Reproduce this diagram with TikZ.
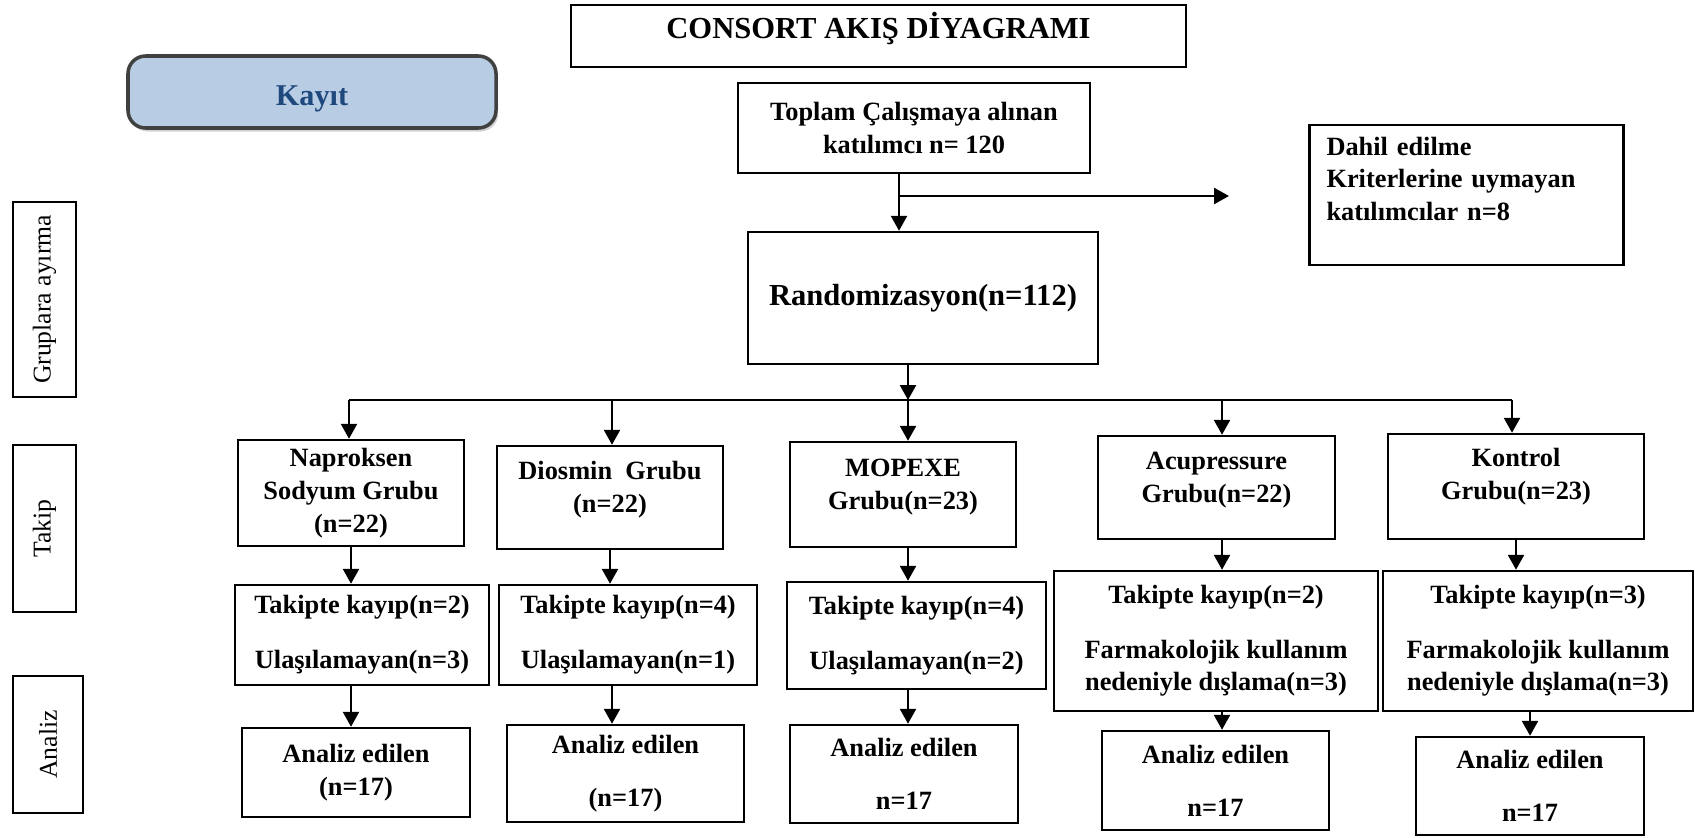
\documentclass[tikz,border=0pt]{standalone}
\usepackage{fontspec}
\setmainfont{Liberation Serif}
\usetikzlibrary{arrows.meta, positioning, shadows}

\definecolor{kayitfill}{RGB}{184,204,228}
\definecolor{kayittext}{RGB}{31,73,125}

\begin{document}
\begin{tikzpicture}[line width=0.7pt, >={Triangle[length=1.5mm, width=1.6mm]}]

	% Define styles
	\tikzstyle{box} = [rectangle, draw, align=center, inner sep=2pt, font=\fontsize{7.5}{9.3}\selectfont\bfseries]
	\tikzstyle{bigbox} = [box, font=\fontsize{8.7}{10.5}\selectfont\bfseries]
	\tikzstyle{side} = [rectangle, draw, rotate=90, font=\fontsize{7.3}{9}\selectfont]
	\tikzstyle{phase} = [rectangle, rounded corners=5pt, draw=black!75, line width=1pt, fill=kayitfill, text=kayittext, drop shadow={shadow xshift=0.6pt, shadow yshift=-1pt, opacity=0.35}, font=\fontsize{8.6}{10}\selectfont\bfseries]

	\useasboundingbox (0,0) rectangle (16.95,-8.37);

	% Header
	\node[bigbox, minimum width=6.15cm, minimum height=0.62cm] (title) at (8.785,-0.36) {CONSORT AKIŞ DİYAGRAMI\\[-0.5em]\mbox{}};
	\node[phase, minimum width=3.68cm, minimum height=0.72cm] (kayit) at (3.12,-0.92) {\raisebox{-2pt}[\height][\depth]{Kayıt}};

	% Enrolment
	\node[box, minimum width=3.52cm, minimum height=0.9cm] (toplam) at (9.14,-1.28) {Toplam Çalışmaya alınan\\katılımcı n= 120};
	\node[box, align=left, text width=2.8cm, inner xsep=0.17cm, minimum height=1.4cm] (dahil) at (14.665,-1.95) {Dahil edilme\\Kriterlerine uymayan\\katılımcılar n=8\\\mbox{}};
	\node[bigbox, minimum width=3.5cm, minimum height=1.32cm] (random) at (9.23,-2.98) {Randomizasyon(n=112)};

	% Side labels
	\node[side, minimum width=1.95cm, minimum height=0.63cm] (grupL) at (0.445,-2.995) {Gruplara ayırma};
	\node[side, minimum width=1.67cm, minimum height=0.63cm] (takipL) at (0.445,-5.285) {Takip};
	\node[side, minimum width=1.37cm, minimum height=0.70cm] (analizL) at (0.48,-7.445) {Analiz};

	% Groups
	\node[box, minimum width=2.26cm, minimum height=1.06cm] (nap) at (3.51,-4.93) {Naproksen\\Sodyum Grubu\\(n=22)};
	\node[box, minimum width=2.26cm, minimum height=1.03cm] (dio) at (6.10,-4.975) {Diosmin~~Grubu\\(n=22)\\[-0.45em]\mbox{}};
	\node[box, minimum width=2.26cm, minimum height=1.05cm] (mop) at (9.03,-4.945) {MOPEXE\\Grubu(n=23)\\[-0.45em]\mbox{}};
	\node[box, minimum width=2.37cm, minimum height=1.03cm] (acu) at (12.165,-4.875) {Acupressure\\Grubu(n=22)\\[-0.45em]\mbox{}};
	\node[box, minimum width=2.56cm, minimum height=1.05cm] (kon) at (15.16,-4.865) {Kontrol\\Grubu(n=23)\\[-0.3em]\mbox{}};

	% Follow-up
	\node[box, minimum width=2.54cm, minimum height=1.0cm] (kayip1) at (3.62,-6.35) {Takipte kayıp(n=2)\\[0.22cm]Ulaşılamayan(n=3)};
	\node[box, minimum width=2.58cm, minimum height=1.0cm] (kayip2) at (6.28,-6.35) {Takipte kayıp(n=4)\\[0.22cm]Ulaşılamayan(n=1)};
	\node[box, minimum width=2.59cm, minimum height=1.07cm] (kayip3) at (9.165,-6.355) {Takipte kayıp(n=4)\\[0.22cm]Ulaşılamayan(n=2)};
	\node[box, minimum width=3.24cm, minimum height=1.4cm] (kayip4) at (12.16,-6.41) {Takipte kayıp(n=2)\\[0.22cm]Farmakolojik kullanım\\nedeniyle dışlama(n=3)};
	\node[box, minimum width=3.10cm, minimum height=1.4cm] (kayip5) at (15.38,-6.41) {Takipte kayıp(n=3)\\[0.22cm]Farmakolojik kullanım\\nedeniyle dışlama(n=3)};

	% Analysis
	\node[box, minimum width=2.28cm, minimum height=0.89cm] (ana1) at (3.56,-7.725) {Analiz edilen\\(n=17)};
	\node[box, minimum width=2.37cm, minimum height=0.97cm] (ana2) at (6.255,-7.735) {Analiz edilen\\[0.2cm](n=17)};
	\node[box, minimum width=2.28cm, minimum height=0.98cm] (ana3) at (9.04,-7.74) {Analiz edilen\\[0.2cm]n=17};
	\node[box, minimum width=2.27cm, minimum height=0.99cm] (ana4) at (12.155,-7.805) {Analiz edilen\\[0.2cm]n=17};
	\node[box, minimum width=2.28cm, minimum height=0.98cm] (ana5) at (15.30,-7.86) {Analiz edilen\\[0.2cm]n=17};

	% Branch points
	\coordinate (split) at (8.99,-1.96);
	\coordinate (exclEnd) at (12.29,-1.96);
	\coordinate (b1) at (3.49,-4.00);
	\coordinate (b2) at (6.12,-4.00);
	\coordinate (b3) at (9.08,-4.00);
	\coordinate (b4) at (12.22,-4.00);
	\coordinate (b5) at (15.12,-4.00);

	% Arrows
	\draw[->] (toplam.south -| split) -- (random.north -| split);
	\draw[->] (split) -- (exclEnd);
	\draw[->] (random.south -| b3) -- (b3);
	\draw (b1) -- (b5);
	\draw[->] (b1) -- (b1 |- nap.north);
	\draw[->] (b2) -- (b2 |- dio.north);
	\draw[->] (b3) -- (b3 |- mop.north);
	\draw[->] (b4) -- (b4 |- acu.north);
	\draw[->] (b5) -- (b5 |- kon.north);

	\draw[->] (nap.south) -- (nap.south |- kayip1.north);
	\draw[->] (kayip1.south -| nap) -- (ana1.north -| nap);
	\draw[->] (dio.south) -- (dio.south |- kayip2.north);
	\draw[->] (kayip2.south -| b2) -- (ana2.north -| b2);
	\draw[->] (mop.south -| b3) -- (kayip3.north -| b3);
	\draw[->] (kayip3.south -| b3) -- (ana3.north -| b3);
	\draw[->] (acu.south -| b4) -- (kayip4.north -| b4);
	\draw[->] (kayip4.south -| b4) -- (ana4.north -| b4);
	\draw[->] (kon.south) -- (kon.south |- kayip5.north);
	\draw[->] (kayip5.south -| ana5) -- (ana5.north);

\end{tikzpicture}
\end{document}
